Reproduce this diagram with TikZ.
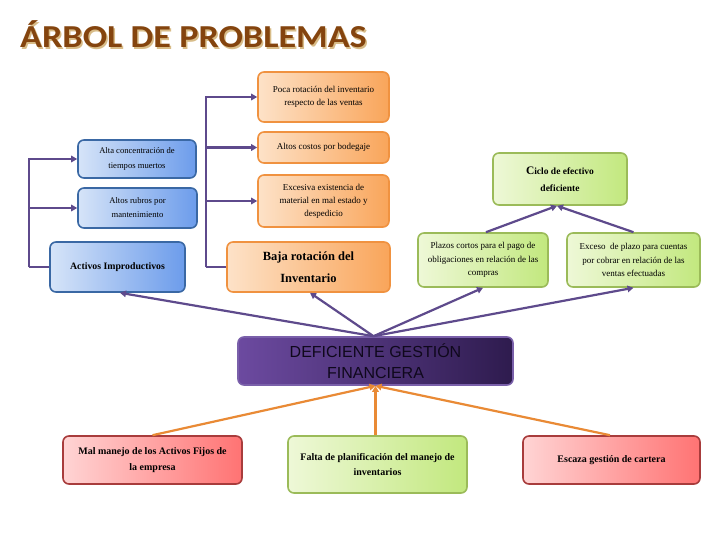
\documentclass[tikz,border=0pt]{standalone}
\usepackage{fontspec}
\setmainfont{Liberation Serif}
\newfontfamily\titlefont[FakeStretch=1.13]{Carlito}
\newfontfamily\arialfont{Liberation Sans}
\usetikzlibrary{arrows.meta,calc}
\definecolor{pline}{HTML}{5E4A8C}
\definecolor{oline}{HTML}{E98A35}
\definecolor{titlebrown}{HTML}{84440E}
\definecolor{titleshadow}{HTML}{D8BC88}
\tikzset{
  box/.style={rounded corners=6pt, line width=1.6pt, align=center, inner sep=2pt, font=\fontsize{9}{13}\selectfont, text=black},
  orangebox/.style={box, draw={rgb,255:red,240;green,146;blue,64}, left color={rgb,255:red,253;green,226;blue,200}, right color={rgb,255:red,249;green,165;blue,90}},
  bluebox/.style={box, draw={rgb,255:red,58;green,104;blue,164}, left color={rgb,255:red,214;green,228;blue,248}, right color={rgb,255:red,108;green,156;blue,235}},
  greenbox/.style={box, draw={rgb,255:red,155;green,187;blue,89}, left color={rgb,255:red,238;green,248;blue,215}, right color={rgb,255:red,194;green,232;blue,126}},
  redbox/.style={box, draw={rgb,255:red,168;green,60;blue,60}, left color={rgb,255:red,255;green,212;blue,212}, right color={rgb,255:red,255;green,115;blue,115}},
  purplebox/.style={box, draw={rgb,255:red,122;green,96;blue,170}, left color={rgb,255:red,108;green,74;blue,160}, right color={rgb,255:red,46;green,27;blue,78}},
  parrow/.style={draw=pline, line width=2.2pt, -{Triangle[length=6pt,width=6.5pt]}},
  pplain/.style={draw=pline, line width=2.2pt},
  oarrow/.style={draw=oline, line width=2.2pt, -{Triangle[length=6pt,width=6.5pt]}},
}
\begin{document}
\begin{tikzpicture}[x=1pt,y=-1pt]
\useasboundingbox (0,0) rectangle (720,540);
\fill[white] (0,0) rectangle (720,540);

% title
\node[anchor=base west, inner sep=0, font=\titlefont\bfseries\fontsize{32}{34}\selectfont, text=titleshadow] (titleshadow) at (21.5,49.5) {ÁRBOL DE PROBLEMAS};
\node[anchor=base west, inner sep=0, font=\titlefont\bfseries\fontsize{32}{34}\selectfont, text=titlebrown] (title) at (20,48) {ÁRBOL DE PROBLEMAS};

% orange boxes
\node[orangebox, minimum width=131, minimum height=50] (poca) at (323.5,97) {Poca rotación del inventario\\respecto de las ventas};
\node[orangebox, minimum width=131, minimum height=31] (costos) at (323.5,147.5) {Altos costos por bodegaje};
\node[orangebox, minimum width=131, minimum height=52, font=\fontsize{9}{13}\selectfont] (exces) at (323.5,201) {Excesiva existencia de\\material en mal estado y\\despedicio};
\node[orangebox, minimum width=163, minimum height=50, font=\bfseries\fontsize{12.5}{22}\selectfont] (baja) at (308.5,267) {Baja rotación del\\Inventario};

% blue boxes
\node[bluebox, minimum width=118, minimum height=38, font=\fontsize{8.6}{15}\selectfont] (alta) at (137,159) {Alta concentración de\\tiempos muertos};
\node[bluebox, minimum width=119, minimum height=40, font=\fontsize{8.6}{14}\selectfont] (rubros) at (137.5,208) {Altos rubros por\\mantenimiento};
\node[bluebox, minimum width=135, minimum height=50, font=\bfseries\fontsize{9.8}{13}\selectfont] (activos) at (117.5,267) {Activos Improductivos};

% green boxes
\node[greenbox, minimum width=134, minimum height=52, font=\bfseries\fontsize{9.5}{17}\selectfont] (ciclo) at (560,179) {{\fontsize{11.5}{17}\selectfont C}iclo de efectivo\\deficiente};
\node[greenbox, minimum width=130, minimum height=54, font=\fontsize{9}{13.5}\selectfont] (plazos) at (483,260) {Plazos cortos para el pago de\\obligaciones en relación de las\\compras};
\node[greenbox, minimum width=133, minimum height=54, font=\fontsize{9}{13.5}\selectfont] (exceso) at (633.5,260) {Exceso \ de plazo para cuentas\\por cobrar en relación de las\\ventas efectuadas};

% center box
\node[purplebox, minimum width=275, minimum height=48, font=\arialfont\fontsize{16}{21}\selectfont, text={rgb,255:red,15;green,8;blue,28}] (center) at (375.5,361) {DEFICIENTE GESTIÓN\\FINANCIERA};

% bottom boxes
\node[redbox, minimum width=179, minimum height=48, font=\bfseries\fontsize{10}{15.5}\selectfont] (malmanejo) at (152.5,460) {Mal manejo de los Activos Fijos de\\la empresa};
\node[greenbox, minimum width=179, minimum height=57, font=\bfseries\fontsize{10}{15.5}\selectfont] (falta) at (377.5,464.5) {Falta de planificación del manejo de\\inventarios};
\node[redbox, minimum width=177, minimum height=48, font=\bfseries\fontsize{10}{15.5}\selectfont] (escaza) at (611.5,460) {Escaza gestión de cartera};

% elbow connectors (orange group)
\coordinate (trunkA) at ([xshift=-20]baja.west);
\draw[pplain] (baja.west) -- (trunkA);
\draw[parrow] (trunkA) |- (poca.west);
\draw[parrow] (trunkA) |- (costos.west);
\draw[parrow] (trunkA) |- (exces.west);

% elbow connectors (blue group)
\coordinate (trunkB) at ([xshift=-20]activos.west);
\draw[pplain] (activos.west) -- (trunkB);
\draw[parrow] (trunkB) |- (alta.west);
\draw[parrow] (trunkB) |- (rubros.west);

% radial purple connectors
\draw[parrow] ([xshift=-2]center.north) -- ([xshift=2.5]activos.south);
\draw[parrow] ([xshift=-2]center.north) -- ([xshift=1.5]baja.south);
\draw[parrow] ([xshift=-2]center.north) -- (plazos.south);
\draw[parrow] ([xshift=-2]center.north) -- (exceso.south);
\draw[parrow] ([xshift=3]plazos.north) -- ([xshift=-3]ciclo.south);
\draw[parrow] (exceso.north) -- ([xshift=-3]ciclo.south);

% orange connectors
\draw[oarrow] (malmanejo.north) -- (center.south);
\draw[oarrow] ([xshift=-2]falta.north) -- (center.south);
\draw[oarrow] ([xshift=-1.5]escaza.north) -- (center.south);
\end{tikzpicture}
\end{document}
